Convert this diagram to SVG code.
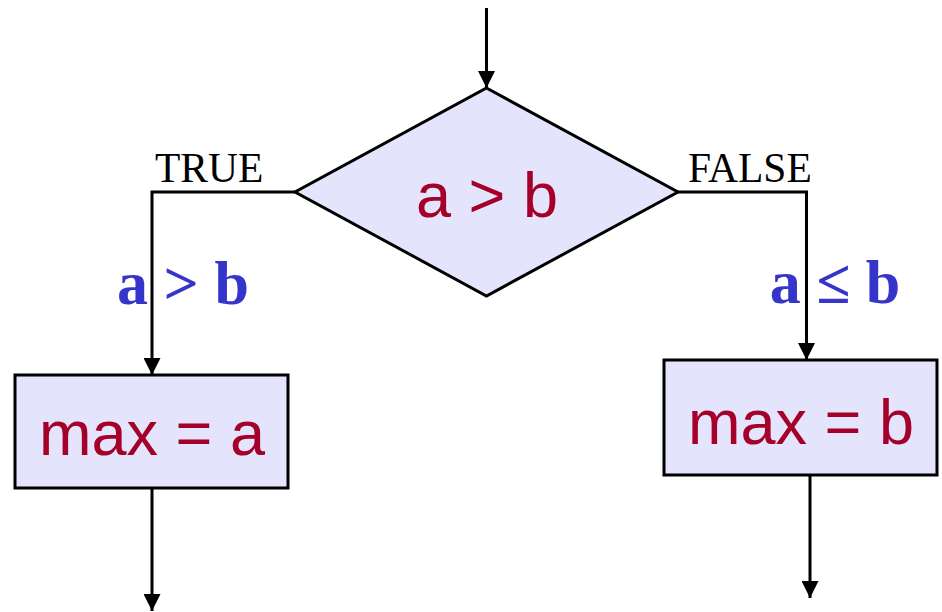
<svg xmlns="http://www.w3.org/2000/svg" width="942" height="612" viewBox="0 0 942 612">
<style>
.shape{fill:#E4E4FC;stroke:#000;stroke-width:3}
.conn{fill:none;stroke:#000;stroke-width:3}
.node{font-family:"Liberation Sans",Arial,sans-serif;fill:#A50029;font-size:63px}
.lbl{font-family:"Liberation Serif","Times New Roman",serif;fill:#000;font-size:41.5px}
.cond{font-family:"Liberation Serif","Times New Roman",serif;fill:#3535CC;font-size:62px;font-weight:bold}
</style>
<defs>
<marker id="arr" markerUnits="userSpaceOnUse" markerWidth="17" markerHeight="17" refX="17" refY="8.5" orient="auto" viewBox="0 0 17 17">
<path d="M0,0 L17,8.5 L0,17 z" fill="#000"/>
</marker>
</defs>
<g id="connectors">
<line class="conn" x1="486.5" y1="8" x2="486.5" y2="88" marker-end="url(#arr)"/>
<polyline class="conn" points="295,192 152,192 152,375" marker-end="url(#arr)"/>
<polyline class="conn" points="678,192 806.5,192 806.5,360" marker-end="url(#arr)"/>
<line class="conn" x1="152" y1="488" x2="152" y2="611" marker-end="url(#arr)"/>
<line class="conn" x1="810" y1="475" x2="810" y2="598" marker-end="url(#arr)"/>
</g>
<g id="decision">
<polygon class="shape" points="486.5,88 678,192 486.5,296 295,192"/>
<text class="node" x="487" y="216.5" text-anchor="middle">a &gt; b</text>
</g>
<g id="label-true"><text class="lbl" x="155" y="182">TRUE</text></g>
<g id="label-false"><text class="lbl" x="688" y="182">FALSE</text></g>
<g id="cond-true"><text class="cond" x="183" y="304" text-anchor="middle">a &gt; b</text></g>
<g id="cond-false"><text class="cond" x="835" y="303" text-anchor="middle">a ≤ b</text></g>
<g id="max-a">
<rect class="shape" x="15" y="375" width="273" height="113"/>
<text class="node" x="152" y="455" text-anchor="middle">max = a</text>
</g>
<g id="max-b">
<rect class="shape" x="664" y="360" width="273" height="115"/>
<text class="node" x="801" y="444" text-anchor="middle">max = b</text>
</g>
</svg>
